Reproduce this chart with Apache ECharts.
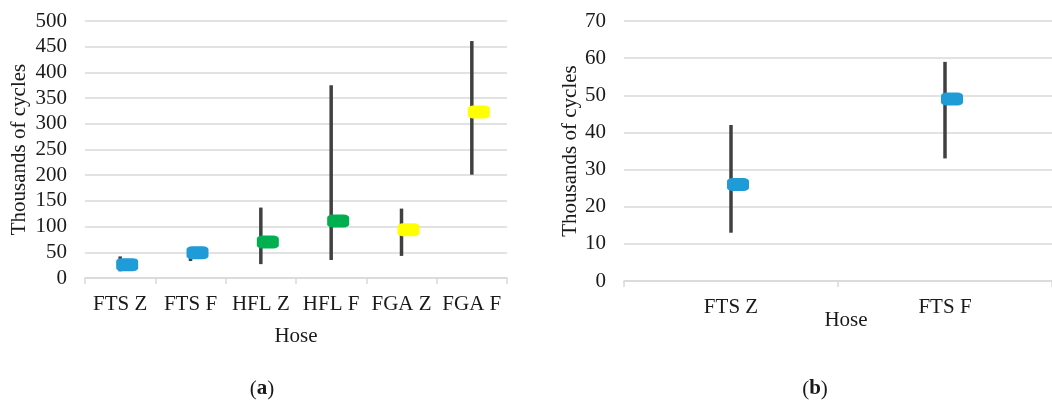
<!DOCTYPE html>
<html>
<head>
<meta charset="utf-8">
<script src="https://cdn.jsdelivr.net/npm/echarts@6/dist/echarts.min.js"></script>
<style>
  html, body { margin: 0; padding: 0; background: #fff; }
  #chart { width: 1052px; height: 402px; }
</style>
</head>
<body>
<div id="chart"></div>
<script>
// (a) all hoses
const catsA = ['FTS Z', 'FTS F', 'HFL Z', 'HFL F', 'FGA Z', 'FGA F'];
const meanA = [26, 49, 70, 111, 94, 323];
const minA = [13, 33, 27, 35, 43, 201];
const maxA = [42, 59, 137, 375, 135, 461];
const colorA = ['#1f9bd7', '#1f9bd7', '#00b050', '#00b050', '#ffff00', '#ffff00'];
const ticksA = [0, 50, 100, 150, 200, 250, 300, 350, 400, 450, 500];

// (b) FTS only
const catsB = ['FTS Z', 'FTS F'];
const meanB = [26, 49];
const minB = [13, 33];
const maxB = [42, 59];
const colorB = ['#1f9bd7', '#1f9bd7'];
const ticksB = [0, 10, 20, 30, 40, 50, 60, 70];

const FONT = '"Liberation Serif", "DejaVu Serif", serif';
const TXT = '#1a1a1a';
const GRID_C = '#d9d9d9';

const chart = echarts.init(document.getElementById('chart'));

const rangeBar = (params, api) => {
  const x = api.value(0);
  const lo = api.coord([x, api.value(1)]);
  const hi = api.coord([x, api.value(2)]);
  return {
    type: 'line',
    shape: { x1: lo[0], y1: lo[1], x2: hi[0], y2: hi[1] },
    style: { stroke: '#404040', lineWidth: 3.5 },
  };
};

const xAxisOf = (idx, cats, nameGap, namePad) => ({
  type: 'category',
  gridIndex: idx,
  data: cats,
  name: 'Hose',
  nameLocation: 'middle',
  nameGap,
  nameMoveOverlap: false,
  nameTextStyle: { fontFamily: FONT, fontSize: 21, color: TXT, padding: namePad },
  axisLine: { lineStyle: { color: GRID_C, width: 1.5 } },
  axisTick: { show: true, length: 6, lineStyle: { color: GRID_C, width: 1.5 } },
  axisLabel: { fontFamily: FONT, fontSize: 21, color: TXT, margin: 16, interval: 0 },
});

const yAxisOf = (idx, ticks, nameGap) => ({
  type: 'value',
  gridIndex: idx,
  min: ticks[0],
  max: ticks[ticks.length - 1],
  interval: ticks[1] - ticks[0],
  name: 'Thousands of cycles',
  nameLocation: 'middle',
  nameGap,
  nameMoveOverlap: false,
  nameTextStyle: { fontFamily: FONT, fontSize: 21, color: TXT },
  axisLine: { show: false },
  axisTick: { show: false },
  axisLabel: { fontFamily: FONT, fontSize: 21, color: TXT, margin: 18 },
  splitLine: { lineStyle: { color: GRID_C, width: 1.5 } },
});

const seriesOf = (idx, mean, lo, hi, colors) => [
  {
    type: 'custom',
    xAxisIndex: idx,
    yAxisIndex: idx,
    renderItem: rangeBar,
    data: mean.map((m, i) => [i, lo[i], hi[i]]),
    silent: true,
    z: 2,
  },
  {
    type: 'scatter',
    xAxisIndex: idx,
    yAxisIndex: idx,
    symbol: 'roundRect',
    symbolSize: [22, 13],
    symbolOffset: [7, 0],
    itemStyle: { opacity: 1 },
    data: mean.map((m, i) => ({ value: [i, m], itemStyle: { color: colors[i], opacity: 1 } })),
    silent: true,
    z: 3,
  },
];

const caption = (x, letter) => ({
  type: 'text',
  x, y: 389,
  style: {
    text: '({b|' + letter + '})',
    align: 'center',
    verticalAlign: 'middle',
    font: '21px ' + FONT,
    fill: TXT,
    rich: { b: { font: 'bold 21px ' + FONT, fill: TXT } },
  },
});

chart.setOption({
  animation: false,
  graphic: [caption(262, 'a'), caption(815, 'b')],
  grid: [
    { left: 85, right: 545, top: 21, bottom: 124 },
    { left: 624, right: -8, top: 21, bottom: 121 },
  ],
  xAxis: [
    xAxisOf(0, catsA, 48, 0),
    xAxisOf(1, catsB, 29, [0, 0, 0, 16]),
  ],
  yAxis: [
    yAxisOf(0, ticksA, 55),
    yAxisOf(1, ticksB, 43),
  ],
  series: [
    ...seriesOf(0, meanA, minA, maxA, colorA),
    ...seriesOf(1, meanB, minB, maxB, colorB),
  ],
});
</script>
</body>
</html>
